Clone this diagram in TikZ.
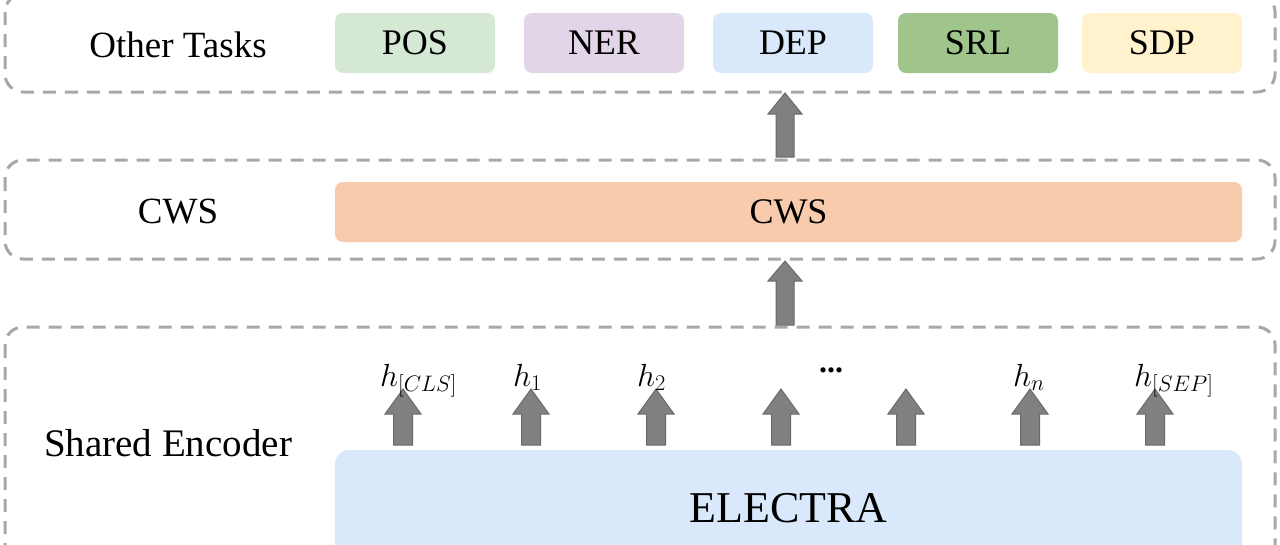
\RequirePackage{fix-cm}
\documentclass[tikz,border=0pt]{standalone}
\usepackage{fontspec}
\setmainfont{Liberation Serif}
\definecolor{posc}{HTML}{D5E8D4}
\definecolor{nerc}{HTML}{E1D5E7}
\definecolor{depc}{HTML}{DAE8FC}
\definecolor{srlc}{HTML}{9FC58D}
\definecolor{sdpc}{HTML}{FFF2CC}
\definecolor{cwsc}{HTML}{F8CBAD}
\definecolor{elec}{HTML}{DAE8FC}
\definecolor{grpc}{HTML}{A8A8A8}
\definecolor{arrfill}{HTML}{808080}
\definecolor{arrline}{HTML}{6A6A6A}
\newcommand{\blockarrow}[6]{%
  \filldraw[arr] (#1-#6,#4) -- (#1-#6,#3) -- (#1-#5,#3) -- (#1,#2) -- (#1+#5,#3) -- (#1+#6,#3) -- (#1+#6,#4) -- cycle;}
\begin{document}
\begin{tikzpicture}[x=1pt,y=-1pt,
  group/.style={draw=grpc, line width=3pt, dash pattern=on 13pt off 9pt, rounded corners=18pt},
  lbl/.style={font=\fontsize{37}{44}\selectfont, inner sep=0pt},
  task/.style={rectangle, rounded corners=8pt, minimum width=160pt, minimum height=60pt, inner sep=0pt, font=\fontsize{36}{42}\selectfont},
  wide/.style={rectangle, rounded corners=8pt, minimum width=907pt, minimum height=60pt, inner sep=0pt, font=\fontsize{36}{42}\selectfont},
  arr/.style={fill=arrfill, draw=arrline, line width=1pt},
  hl/.style={font=\fontsize{32}{38}\selectfont, inner sep=0pt}
]
\useasboundingbox (0,0) rectangle (1280,544);
\clip (0,0) rectangle (1280,544);
\fill[white] (0,0) rectangle (1280,544);
% group boxes
\draw[group] (5,-6) rectangle (1275,92);
\draw[group] (5,160) rectangle (1275,259);
\draw[group] (5,327) rectangle (1275,580);
% top layer
\node[lbl] (othertasks) at (178,45) {Other Tasks};
\node[task, fill=posc] (pos) at (415,43) {POS};
\node[task, fill=nerc] (ner) at (604,43) {NER};
\node[task, fill=depc] (dep) at (793,43) {DEP};
\node[task, fill=srlc] (srl) at (978,43) {SRL};
\node[task, fill=sdpc] (sdp) at (1162,43) {SDP};
% middle layer
\node[lbl] (cwslbl) at (178,212) {CWS};
\node[wide, fill=cwsc] (cws) at (788.5,212) {CWS};
% bottom layer
\node[lbl, font=\fontsize{39}{46}\selectfont] (shenc) at (168,443) {Shared Encoder};
\node[rectangle, rounded corners=14pt, fill=elec, minimum width=907pt, minimum height=120pt, inner sep=0pt, font=\fontsize{44}{52}\selectfont] (electra) at (788.5,510) {\raisebox{5pt}{ELECTRA}};
% inter-layer arrows
\blockarrow{785}{93}{114}{157}{17}{9}
\blockarrow{785}{261}{281}{325}{17}{9}
% hidden state arrows
\foreach \xx in {403,531,656,781,906,1030,1155}{
  \blockarrow{\xx}{389}{414}{445}{18}{9.5}
}
% labels
\node[hl, anchor=base west] (hcls) at (380,386) {$h_{[CLS]}$};
\node[hl, anchor=base west] (h1) at (513,386) {$h_1$};
\node[hl, anchor=base west] (h2) at (637,386) {$h_2$};
\node[hl] (dots) at (831,370) {\textbf{...}};
\node[hl, anchor=base west] (hn) at (1013,386) {$h_n$};
\node[hl, anchor=base west] (hsep) at (1134,386) {$h_{[SEP]}$};
\end{tikzpicture}
\end{document}
